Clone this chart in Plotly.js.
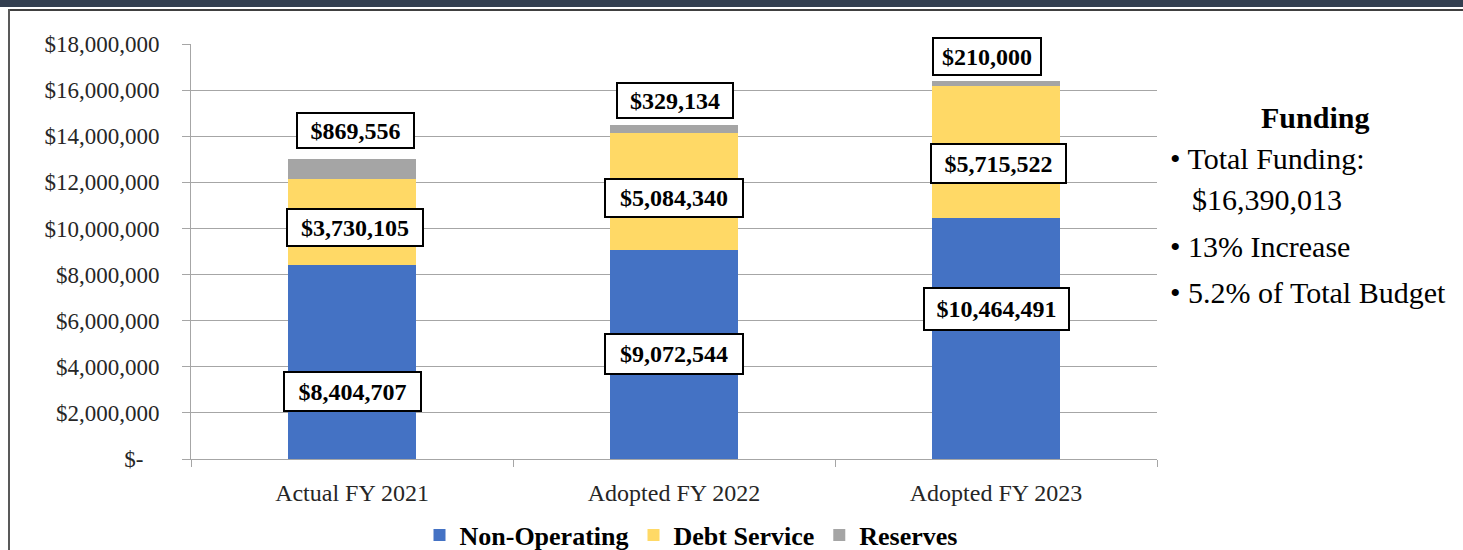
<!DOCTYPE html>
<html><head><meta charset="utf-8">
<script src="https://cdn.plot.ly/plotly-3.0.1.min.js"></script>
<style>
html,body{margin:0;padding:0;background:#fff;width:1463px;height:550px;overflow:hidden;position:relative}
#band{position:absolute;left:0;top:0;width:1463px;height:7px;background:#333F50}
#topline{position:absolute;left:8px;top:9px;width:1455px;height:2px;background:#404040}
#leftline{position:absolute;left:8px;top:9px;width:2px;height:541px;background:#595959}
#chart{position:absolute;left:0;top:0;width:1463px;height:550px}
</style></head><body>
<div id="band"></div><div id="topline"></div><div id="leftline"></div>
<div id="chart"></div>
<script>
// ---- data ----
const categories = ["Actual FY 2021", "Adopted FY 2022", "Adopted FY 2023"];
const nonOperating = [8404707, 9072544, 10464491];
const debtService = [3730105, 5084340, 5715522];
const reserves = [869556, 329134, 210000];
const seriesNames = ["Non-Operating", "Debt Service", "Reserves"];
const yTickVals = [0, 2000000, 4000000, 6000000, 8000000, 10000000, 12000000, 14000000, 16000000, 18000000];
const yTickText = ["$-\u2002\u2009", "$2,000,000", "$4,000,000", "$6,000,000", "$8,000,000", "$10,000,000", "$12,000,000", "$14,000,000", "$16,000,000", "$18,000,000"];
const sideTitle = "Funding";
const sideLines = ["\u2022 Total Funding:", "$16,390,013", "\u2022 13% Increase", "\u2022 5.2% of Total Budget"];

// ---- styling ----
const colors = ["#4472C4", "#FFD966", "#A5A5A5"];
const serif = "'Liberation Serif', serif";
const gridCol = "#A6A6A6";
const series = [nonOperating, debtService, reserves];

const fmt = v => "$" + v.toLocaleString("en-US");

const traces = series.map((vals, i) => ({
  type: "bar", name: seriesNames[i], x: categories, y: vals,
  marker: {color: colors[i], line: {width: 0}},
  hoverinfo: "skip"
}));

// label placement (data-space y, pixel x shift, box size) per series per category
const labelPlace = [
  [{y: 2.93e6, dx: 0, w: 137, h: 39}, {y: 4.55e6, dx: 0, w: 138, h: 40}, {y: 6.51e6, dx: 0, w: 145, h: 42}],
  [{y: 10.04e6, dx: 3, w: 136, h: 37}, {y: 11.32e6, dx: 0, w: 138, h: 38}, {y: 12.82e6, dx: 2, w: 135, h: 39}],
  [{y: 14.25e6, dx: 3, w: 117, h: 35}, {y: 15.55e6, dx: 1, w: 116, h: 35}, {y: 17.46e6, dx: -9, w: 108, h: 37}]
];

const annotations = [];
series.forEach((vals, s) => {
  vals.forEach((v, c) => {
    const p = labelPlace[s][c];
    annotations.push({
      xref: "x", yref: "y", x: categories[c], y: p.y, xshift: p.dx,
      text: "<b>" + fmt(v) + "</b>", showarrow: false,
      font: {family: serif, size: 24, color: "#000"},
      bgcolor: "#fff", bordercolor: "#000", borderwidth: 2, borderpad: 0,
      width: p.w - 2, height: p.h - 2, align: "center", valign: "middle"
    });
  });
});

// side text
const px2x = px => (px - 191) / 966;
const px2y = py => (459 - py) / 415;
annotations.push({xref: "paper", yref: "paper", x: px2x(1315), y: px2y(118), xanchor: "center", yanchor: "middle",
  text: "<b>" + sideTitle + "</b>", showarrow: false, font: {family: serif, size: 30, color: "#000"}});
const sideX = [1168, 1190, 1168, 1168];
const sideY = [158, 200, 246, 292];
sideLines.forEach((t, i) => {
  annotations.push({xref: "paper", yref: "paper", x: px2x(sideX[i]), y: px2y(sideY[i]), xanchor: "left", yanchor: "middle",
    text: t, showarrow: false, font: {family: serif, size: 30, color: "#000"}});
});

const layout = {
  width: 1463, height: 550,
  margin: {l: 191, r: 306, t: 44, b: 91, pad: 0, autoexpand: false},
  paper_bgcolor: "rgba(0,0,0,0)", plot_bgcolor: "rgba(0,0,0,0)",
  barmode: "stack", bargap: 0.6,
  font: {family: serif, color: "#000"},
  xaxis: {
    type: "category", showline: true, linecolor: gridCol, linewidth: 1,
    ticks: "outside", tickson: "boundaries", ticklen: 7, tickcolor: gridCol, tickwidth: 1,
    showgrid: false, tickfont: {family: serif, size: 24, color: "#262626"}, ticklabelstandoff: 12,
    automargin: false
  },
  yaxis: {
    range: [0, 18000000], tickvals: yTickVals, ticktext: yTickText,
    showline: true, linecolor: gridCol, linewidth: 1,
    ticks: "outside", ticklen: 8, tickcolor: gridCol, tickwidth: 1,
    showgrid: true, gridcolor: gridCol, gridwidth: 1, zeroline: false,
    tickfont: {family: serif, size: 23, color: "#262626"}, ticklabelstandoff: 18,
    automargin: false
  },
  showlegend: true,
  legend: {
    orientation: "h", x: px2x(691), xanchor: "center", y: px2y(535), yanchor: "middle",
    traceorder: "normal", font: {family: serif, size: 26, color: "#000", weight: "bold"},
    bgcolor: "rgba(0,0,0,0)"
  },
  annotations: annotations
};

Plotly.newPlot("chart", traces, layout, {displayModeBar: false, staticPlot: true});
</script>
</body></html>
